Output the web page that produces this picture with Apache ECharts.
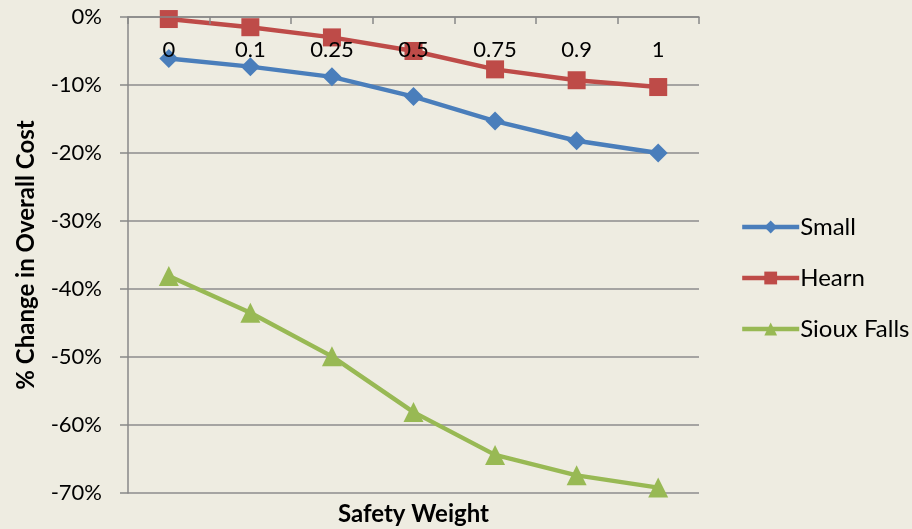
<!DOCTYPE html>
<html>
<head>
<meta charset="utf-8">
<script src="https://cdn.jsdelivr.net/npm/echarts@6/dist/echarts.min.js"></script>
<style>
  html, body { margin: 0; padding: 0; background: #EEECE1; }
  #chart { width: 912px; height: 529px; }
</style>
</head>
<body>
<div id="chart"></div>
<script>
// Safety weight settings on the category axis
const categories = ['0', '0.1', '0.25', '0.5', '0.75', '0.9', '1'];

// % change in overall cost for each network
const small = [-6.1, -7.3, -8.8, -11.7, -15.3, -18.2, -20.0];
const hearn = [-0.3, -1.5, -3.0, -5.0, -7.7, -9.3, -10.3];
const siouxFalls = [-38.1, -43.5, -49.9, -58.1, -64.4, -67.4, -69.2];

// Value-axis range
const yMin = -70;
const yMax = 0;
const yStep = 10;

const FONT = 'Lato, "Liberation Sans", sans-serif';
const GRID = { left: 128, right: 213, top: 17, bottom: 36 };

const chart = echarts.init(document.getElementById('chart'), null, { renderer: 'canvas' });

function lineSeries(name, data, color, symbol, size) {
  return {
    name: name,
    type: 'line',
    data: data,
    symbol: symbol,
    symbolSize: size,
    showAllSymbol: true,
    lineStyle: { color: color, width: 4.4 },
    itemStyle: { color: color },
    emphasis: { disabled: true },
    z: 3
  };
}

chart.setOption({
  backgroundColor: '#EEECE1',
  animation: false,
  textStyle: { fontFamily: FONT },
  grid: GRID,
  legend: {
    orient: 'vertical',
    left: 735,
    top: 210,
    itemWidth: 57,
    itemHeight: 16,
    itemGap: 27,
    lineStyle: { width: 4.4 },
    textStyle: { fontFamily: FONT, fontSize: 24, color: '#000', padding: [0, 0, 0, -4] },
    data: ['Small', 'Hearn', 'Sioux Falls']
  },
  xAxis: {
    type: 'category',
    position: 'top',
    data: categories,
    boundaryGap: true,
    z: 10,
    axisLine: { onZero: false, lineStyle: { color: '#888888', width: 1.5 } },
    axisTick: { show: true, inside: true, length: 7, lineStyle: { color: '#888888', width: 1.5 } },
    axisLabel: { inside: true, margin: 22, fontSize: 22, color: '#000', fontFamily: FONT },
    splitLine: { show: false }
  },
  yAxis: {
    type: 'value',
    min: yMin,
    max: yMax,
    interval: yStep,
    name: '% Change in Overall Cost',
    nameLocation: 'middle',
    nameRotate: 90,
    nameGap: 90,
    nameTextStyle: { fontFamily: FONT, fontSize: 24, fontWeight: 'bold', color: '#000' },
    axisLine: { show: true, lineStyle: { color: '#888888', width: 1.5 } },
    axisTick: { show: true, length: 8, lineStyle: { color: '#888888', width: 1.5 } },
    axisLabel: { margin: 26, fontSize: 22, color: '#000', fontFamily: FONT, formatter: '{value}%' },
    splitLine: { show: true, lineStyle: { color: '#8C8C8C', width: 1.5 } }
  },
  graphic: [{
    type: 'text',
    style: {
      text: 'Safety Weight',
      x: (GRID.left + (912 - GRID.right)) / 2,
      y: 514,
      align: 'center',
      verticalAlign: 'middle',
      font: 'bold 24px ' + FONT,
      fill: '#000'
    }
  }],
  series: [
    lineSeries('Small', small, '#4A7EBB', 'diamond', 19),
    lineSeries('Hearn', hearn, '#BE4B48', 'rect', 18),
    lineSeries('Sioux Falls', siouxFalls, '#98B954', 'triangle', 20)
  ]
});
</script>
</body>
</html>
